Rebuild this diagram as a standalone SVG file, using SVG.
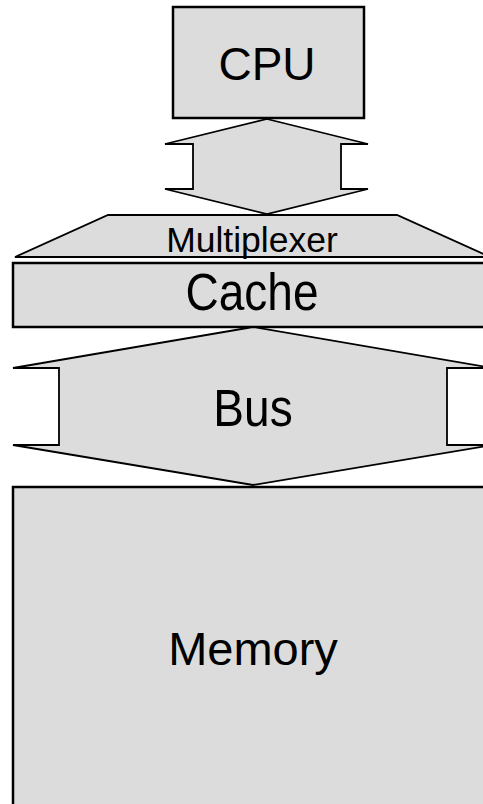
<svg xmlns="http://www.w3.org/2000/svg" width="483" height="804" viewBox="0 0 483 804">
<style>
.box{fill:#dcdcdc;stroke:#000;stroke-width:2.5}
.arr{fill:#dcdcdc;stroke:#000;stroke-width:1.8;stroke-linejoin:miter}
.lbl{font-family:"Liberation Sans",Arial,sans-serif;fill:#000;text-anchor:middle}
</style>
<rect width="483" height="804" fill="#fff"/>
<g id="memory">
<rect class="box" x="13" y="487" width="480" height="330"/>
<text class="lbl" x="253" y="665" font-size="47">Memory</text>
</g>
<g id="cache">
<rect class="box" x="13" y="263" width="480" height="64"/>
<text class="lbl" transform="translate(252,310) scale(1,1.13)" font-size="46">Cache</text>
</g>
<g id="cpu">
<rect class="box" x="173" y="7" width="191" height="111"/>
<text class="lbl" x="267" y="80" font-size="46">CPU</text>
</g>
<g id="connectors">
<polygon class="arr" points="267,119 368,144 341,144 341,189 368,189 267,214 165,189 193,189 193,144 165,144"/>
<polygon class="arr" points="253,327 493,368 447,368 447,445 493,445 253,485 13,445 59,445 59,368 13,368"/>
</g>
<g id="multiplexer">
<polygon class="arr" points="108,215 397,215 490,257 15,257"/>
<text class="lbl" x="252" y="252" font-size="35.5">Multiplexer</text>
</g>
<g id="bus-label">
<text class="lbl" transform="translate(253,426) scale(1,1.13)" font-size="46">Bus</text>
</g>
</svg>
